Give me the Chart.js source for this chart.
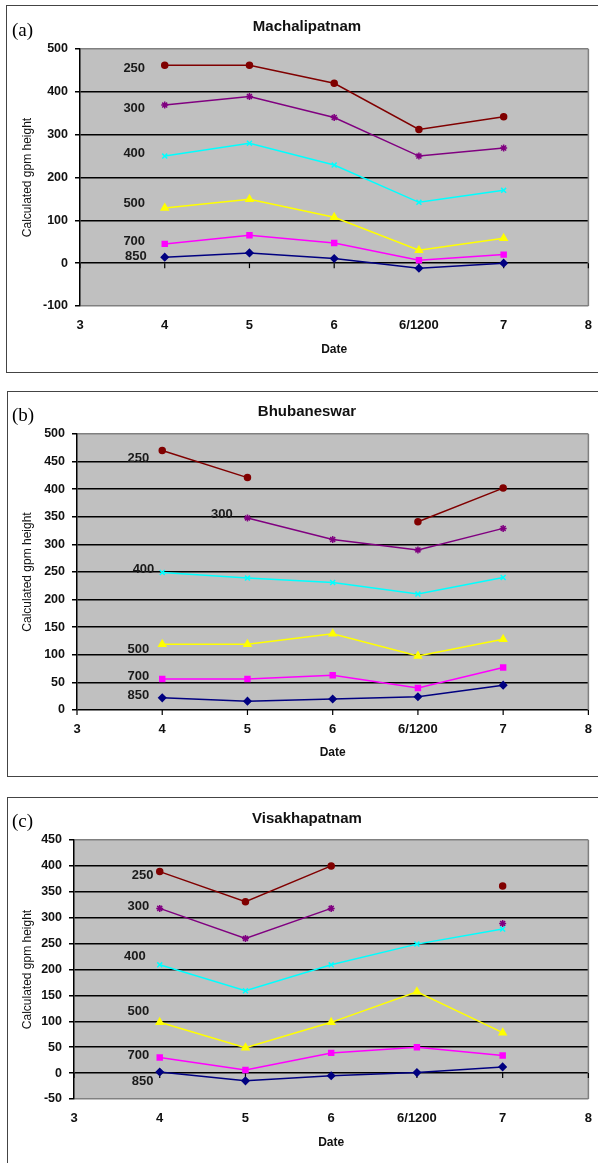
<!DOCTYPE html>
<html><head><meta charset="utf-8">
<script src="https://cdn.jsdelivr.net/npm/chart.js@4"></script>
<style>
html,body{margin:0;padding:0;background:#fff;width:598px;height:1163px;overflow:hidden;position:relative;}
.cv{position:absolute;left:0;}
.box{position:absolute;border:1.5px solid #444;border-right:none;pointer-events:none;}
.tag{position:absolute;font-family:"Liberation Serif",serif;font-size:19px;line-height:19px;color:#000;}
</style></head><body>
<canvas id="ca" class="cv" width="604" height="367" style="top:5px"></canvas>
<canvas id="cb" class="cv" width="604" height="385" style="top:391px"></canvas>
<canvas id="cc" class="cv" width="604" height="366" style="top:797px"></canvas>
<div class="box" style="left:6px;top:5px;width:600px;height:366px"></div>
<div class="box" style="left:7px;top:391px;width:600px;height:384px"></div>
<div class="box" style="left:7px;top:797px;width:600px;height:380px"></div>
<div class="tag" style="left:12px;top:20px">(a)</div>
<div class="tag" style="left:12px;top:405px">(b)</div>
<div class="tag" style="left:12px;top:811px">(c)</div>
<script>
const xTickLabels = ['3','4','5','6','6/1200','7','8'];
const dates = ['4','5','6','6/1200','7'];
const levels = ['850','700','500','400','300','250'];

// (a) Machalipatnam
const mach850 = [14, 24, 11, -12, 0];
const mach700 = [45, 65, 47, 7, 20];
const mach500 = [129, 149, 107, 30, 58];
const mach400 = [250, 280, 229, 142, 170];
const mach300 = [369, 389, 340, 250, 269];
const mach250 = [462, 462, 420, 312, 342];
const machLabelX = [0.66, 0.64, 0.64, 0.64, 0.64, 0.64];
const machLabelY = [16, 51, 139, 256, 361, 455];

// (b) Bhubaneswar
const bhu850 = [22, 16, 20, 24, 45];
const bhu700 = [56, 56, 63, 40, 77];
const bhu500 = [119, 119, 138, 98, 128];
const bhu400 = [249, 239, 231, 210, 240];
const bhu300 = [null, 348, 309, 290, 329];
const bhu250 = [470, 421, null, 341, 402];
const bhuLabelX = [0.72, 0.72, 0.72, 0.78, 1.70, 0.72];
const bhuLabelY = [27, 60, 110, 254, 355, 455];

// (c) Visakhapatnam
const vis850 = [2, -15, -5, 1, 12];
const vis700 = [30, 6, 39, 50, 34];
const vis500 = [98, 49, 98, 157, 78];
const vis400 = [209, 159, 209, 249, 278];
const vis300 = [318, 260, 318, null, 289];
const vis250 = [389, 331, 400, null, 361];
const visLabelX = [0.80, 0.75, 0.75, 0.71, 0.75, 0.80];
const visLabelY = [-17, 34, 119, 225, 321, 382];

const colors = ['#000080','#FF00FF','#FFFF00','#00FFFF','#800080','#800000'];
const styles = ['rectRot','rect','triangle','crossRot','star','circle'];
const radii = [3.5, 3.5, 4, 3.5, 3.5, 3];

const FONT = 'Liberation Sans, Arial, sans-serif';

const bgPlugin = {
  id: 'bg',
  beforeDraw(chart) {
    const {ctx, chartArea: a} = chart;
    const o = chart.options.plugins.bg;
    ctx.save();
    ctx.fillStyle = '#C0C0C0';
    ctx.fillRect(a.left, a.top, a.right - a.left, a.bottom - a.top);
    ctx.font = 'bold 15px ' + FONT;
    ctx.fillStyle = '#111';
    ctx.textAlign = 'center';
    ctx.textBaseline = 'middle';
    ctx.fillText(o.title, o.tx, o.ty);
    ctx.restore();
  },
  beforeDatasetsDraw(chart) {
    const {ctx, chartArea: a, scales: {x, y}} = chart;
    ctx.save();
    ctx.strokeStyle = '#808080';
    ctx.lineWidth = 1.5;
    ctx.beginPath();
    ctx.moveTo(a.right, a.top);
    ctx.lineTo(a.right, a.bottom);
    ctx.stroke();
    const y0 = y.getPixelForValue(0);
    ctx.strokeStyle = '#000';
    ctx.lineWidth = 1.2;
    for (let i = 0; i < xTickLabels.length; i++) {
      const px = x.getPixelForValue(i);
      ctx.beginPath();
      ctx.moveTo(px, y0);
      ctx.lineTo(px, y0 + 5);
      ctx.stroke();
    }
    ctx.restore();
  },
  afterDatasetsDraw(chart) {
    const {ctx, scales: {x, y}} = chart;
    const o = chart.options.plugins.bg;
    ctx.save();
    ctx.font = 'bold 13px ' + FONT;
    ctx.fillStyle = '#1a1a1a';
    ctx.textAlign = 'center';
    ctx.textBaseline = 'middle';
    levels.forEach((lv, i) => {
      ctx.fillText(lv, x.getPixelForValue(o.lx[i]), y.getPixelForValue(o.ly[i]));
    });
    ctx.restore();
  }
};

function makeChart(id, cfg) {
  new Chart(document.getElementById(id), {
    type: 'line',
    data: {
      datasets: levels.map((lv, i) => ({
        label: lv,
        data: cfg.series[i].map((v, j) => ({x: xTickLabels.indexOf(dates[j]), y: v})),
        borderColor: colors[i],
        backgroundColor: colors[i],
        pointStyle: styles[i],
        pointRadius: radii[i],
        pointBorderWidth: 1.5,
        borderWidth: 1.5,
        spanGaps: false,
        tension: 0
      }))
    },
    options: {
      responsive: false,
      animation: false,
      devicePixelRatio: 1,
      layout: {padding: {left: 0, right: 3, top: cfg.top, bottom: 0}},
      plugins: {
        legend: {display: false},
        tooltip: {enabled: false},
        title: {display: false},
        bg: {lx: cfg.lx, ly: cfg.ly, title: cfg.title, tx: 307, ty: cfg.ty}
      },
      scales: {
        x: {
          type: 'linear', min: 0, max: 6,
          ticks: {stepSize: 1, callback: v => xTickLabels[v], color: '#111',
            font: {family: FONT, size: 13, weight: 'bold'}, padding: 12, maxRotation: 0, autoSkip: false},
          grid: {display: false, drawTicks: false},
          border: {display: false},
          title: {display: true, text: 'Date', color: '#111',
            font: {family: FONT, size: 12, weight: 'bold'}, padding: {top: 0, bottom: cfg.db}},
          afterFit: s => { s.height = cfg.xh; }
        },
        y: {
          min: cfg.min, max: cfg.max,
          ticks: {stepSize: cfg.step, color: '#111',
            font: {family: FONT, size: 12.5, weight: 'bold'}, padding: 7},
          grid: {
            color: c => (c.tick && (c.tick.value === cfg.max || (c.tick.value === cfg.min && cfg.min !== 0))) ? '#808080' : '#000',
            lineWidth: 1.5, tickLength: 5, tickColor: '#000', drawTicks: true
          },
          border: {display: true, color: '#000', width: 1.5},
          title: {display: true, text: 'Calculated gpm height', color: '#111',
            font: {family: FONT, size: 12}, padding: {top: 20.8, bottom: 0}},
          afterFit: s => { s.width = cfg.yw; }
        }
      }
    },
    plugins: [bgPlugin]
  });
}

makeChart('ca', {title: 'Machalipatnam', series: [mach850, mach700, mach500, mach400, mach300, mach250],
  lx: machLabelX, ly: machLabelY, min: -100, max: 500, step: 100, top: 44, ty: 22, xh: 66, db: 14.8, yw: 80});
makeChart('cb', {title: 'Bhubaneswar', series: [bhu850, bhu700, bhu500, bhu400, bhu300, bhu250],
  lx: bhuLabelX, ly: bhuLabelY, min: 0, max: 500, step: 50, top: 43, ty: 21, xh: 66, db: 15.8, yw: 77});
makeChart('cc', {title: 'Visakhapatnam', series: [vis850, vis700, vis500, vis400, vis300, vis250],
  lx: visLabelX, ly: visLabelY, min: -50, max: 450, step: 50, top: 43, ty: 22, xh: 64, db: 12.8, yw: 74});
</script>
</body></html>
